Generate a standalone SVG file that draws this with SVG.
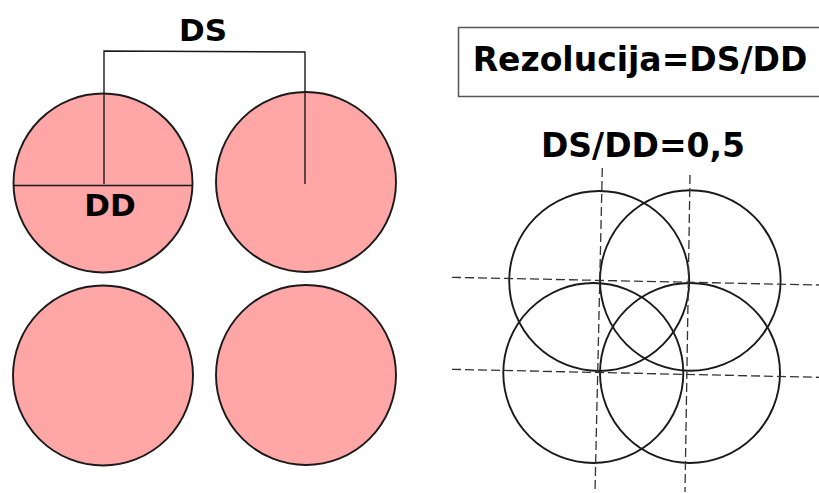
<svg xmlns="http://www.w3.org/2000/svg" width="819" height="493" viewBox="0 0 819 493">
<style>
.pink{fill:#ffa6a6;stroke:#1a1a1a;stroke-width:1.9}
.ring{fill:none;stroke:#1a1a1a;stroke-width:1.9}
.ln{fill:none;stroke:#1a1a1a;stroke-width:1.4}
.dash{fill:none;stroke:#333;stroke-width:1.3;stroke-dasharray:9 4}
.t{font-family:"DejaVu Sans",sans-serif;font-weight:bold;fill:#000}
</style>
<rect width="819" height="493" fill="#fff"/>
<g id="circle-tl"><circle class="pink" cx="103" cy="183" r="89.5"/></g>
<g id="circle-tr"><circle class="pink" cx="306" cy="182" r="90"/></g>
<g id="circle-bl"><circle class="pink" cx="103" cy="375.5" r="90"/></g>
<g id="circle-br"><circle class="pink" cx="306" cy="375" r="90"/></g>
<g id="connectors">
<path class="ln" d="M104,184 V51 L305,52 V184"/>
<path class="ln" d="M13.5,185.5 H192.5"/>
</g>
<g id="label-ds"><text class="t" x="203" y="41" font-size="31" text-anchor="middle">DS</text></g>
<g id="label-dd"><text class="t" x="110" y="216" font-size="31" text-anchor="middle">DD</text></g>
<g id="formula-box">
<rect x="458.5" y="27.5" width="362" height="69" fill="#fff" stroke="#555" stroke-width="1.5"/>
<text class="t" x="640" y="71" font-size="33" text-anchor="middle">Rezolucija=DS/DD</text>
</g>
<g id="ratio-label"><text class="t" x="643" y="157" font-size="33" text-anchor="middle">DS/DD=0,5</text></g>
<g id="overlap">
<circle class="ring" cx="599.2" cy="281" r="90"/>
<circle class="ring" cx="690.3" cy="280.5" r="90.3"/>
<circle class="ring" cx="593.3" cy="373" r="90"/>
<circle class="ring" cx="690" cy="373" r="90"/>
</g>
<g id="grid">
<line class="dash" x1="602.3" y1="168" x2="595" y2="492"/>
<line class="dash" x1="690" y1="175" x2="685" y2="492"/>
<line class="dash" x1="452" y1="277.3" x2="819" y2="285"/>
<line class="dash" x1="452" y1="369.3" x2="819" y2="377.3"/>
</g>
</svg>
